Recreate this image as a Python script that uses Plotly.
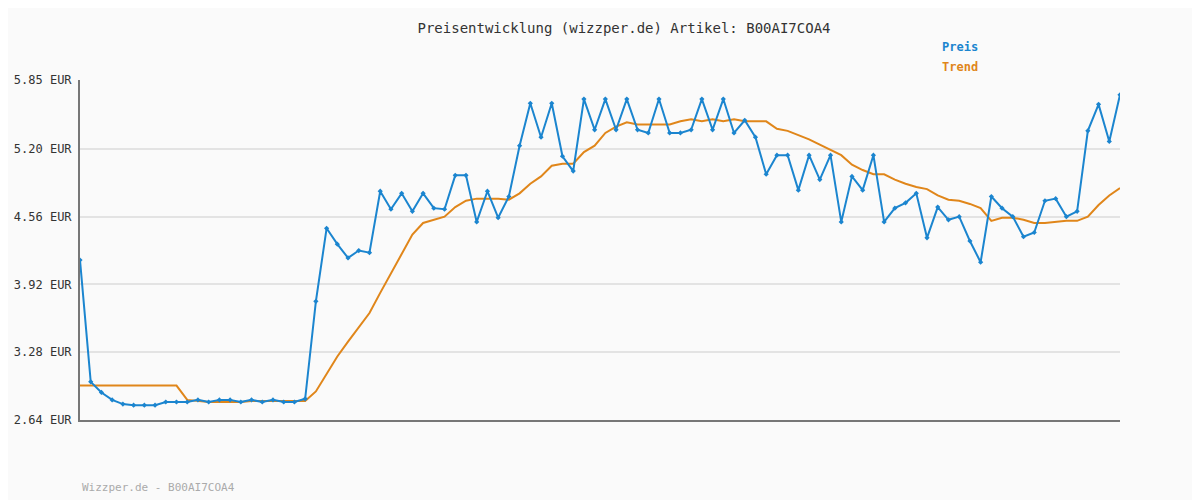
import plotly.graph_objects as go

preis = [4.15,3.00,2.90,2.83,2.79,2.78,2.78,2.78,2.81,2.81,2.81,2.83,2.81,2.83,2.83,2.81,2.83,2.81,2.83,2.81,2.81,2.84,
         3.76,4.45,4.30,4.17,4.24,4.22,4.80,4.63,4.78,4.61,4.78,4.64,4.63,4.95,4.95,4.51,4.80,4.55,4.75,5.23,5.63,5.31,5.63,5.13,4.99,
         5.67,5.38,5.67,5.38,5.67,5.38,5.35,5.67,5.35,5.35,5.38,5.67,5.38,5.67,5.35,5.47,5.31,4.96,5.14,5.14,4.81,5.14,4.91,5.14,
         4.51,4.94,4.81,5.14,4.51,4.64,4.69,4.78,4.36,4.65,4.53,4.56,4.33,4.13,4.75,4.64,4.56,4.37,4.41,4.71,4.73,4.56,4.61,5.37,5.62,5.27,5.71]
trend = [2.965]*10 + [2.83,2.82,2.81,2.81,2.81,2.81,2.82,2.82,2.82,2.82,2.82,2.82,
         2.91,3.08,3.24,3.38,3.51,3.65,3.84,4.02,4.21,4.39,4.50,4.53,4.56,4.65,4.71,4.73,4.73,4.73,4.72,4.78,4.87,4.94,5.04,5.06,5.06,
         5.17,5.23,5.35,5.41,5.45,5.43,5.43,5.43,5.43,5.46,5.48,5.46,5.48,5.46,5.48,5.46,5.46,5.46,5.39,5.37,5.33,5.29,5.24,5.19,
         5.14,5.05,5.00,4.96,4.96,4.91,4.87,4.84,4.82,4.76,4.72,4.71,4.68,4.64,4.52,4.55,4.55,4.53,4.50,4.50,4.51,4.52,4.52,4.56,4.67,4.76,4.83,4.93]
x = list(range(len(preis)))
tickvals = [2.64,3.28,3.92,4.56,5.20,5.85]
ticktext = ["2.64 EUR","3.28 EUR","3.92 EUR","4.56 EUR","5.20 EUR","5.85 EUR"]

mono = "DejaVu Sans Mono"
fig = go.Figure()
fig.add_trace(go.Scatter(x=x, y=trend, mode="lines", line=dict(color="#e0861a", width=2), name="Trend"))
fig.add_trace(go.Scatter(x=x, y=preis, mode="lines+markers", line=dict(color="#1b85cf", width=2),
                         marker=dict(symbol="diamond", size=4, color="#1b85cf"), name="Preis"))
fig.update_layout(
    width=1200, height=500, paper_bgcolor="#fafafa", plot_bgcolor="#fafafa",
    margin=dict(l=72, r=88, t=72, b=88), showlegend=False,
    font=dict(family=mono, size=12, color="#333"),
    title=dict(text="Preisentwicklung (wizzper.de) Artikel: B00AI7COA4", x=616/1200, y=0.96, xanchor="center",
               yanchor="middle", font=dict(family=mono, size=14, color="#333")),
    xaxis=dict(range=[0, len(preis)-1], showgrid=False, showticklabels=False, zeroline=False,
               showline=True, linecolor="#777", linewidth=2, ticks="", automargin=False),
    yaxis=dict(range=[2.64, 5.85], tickvals=tickvals, ticktext=ticktext, showgrid=True, gridcolor="#e3e3e3",
               gridwidth=2, zeroline=False, showline=True, linecolor="#777", linewidth=2, automargin=False,
               ticks="", ticklabelstandoff=4, tickfont=dict(family=mono, size=12, color="#333")),
)
labels = [("<b>Preis</b>", 940, 47, "#1b85cf", 12), ("<b>Trend</b>", 940, 67, "#e0861a", 12),
          ("Wizzper.de - B00AI7COA4", 80, 487, "#aaaaaa", 11)]
fig.update_layout(annotations=[
    dict(text=t, xref="paper", yref="paper", x=(px-80)/1040, y=(420-py)/340,
         xanchor="left", yanchor="middle", showarrow=False, font=dict(family=mono, size=s, color=c))
    for t, px, py, c, s in labels])
fig.write_html("out.html")
